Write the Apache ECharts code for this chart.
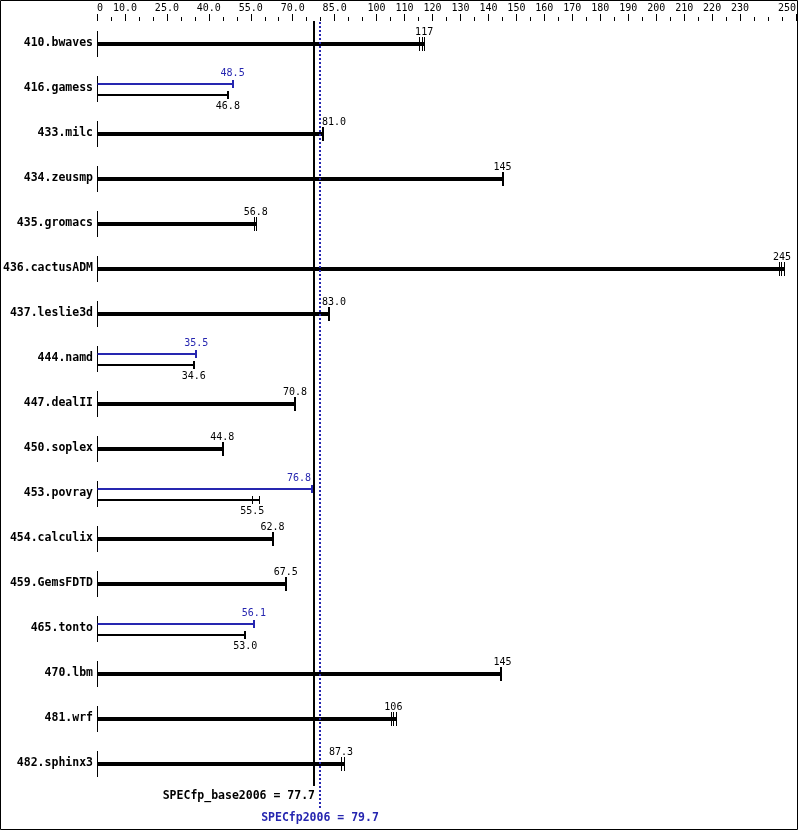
<!DOCTYPE html>
<html>
<head>
<meta charset="utf-8">
<script src="https://cdn.jsdelivr.net/npm/echarts@6/dist/echarts.min.js"></script>
<style>
html,body{margin:0;padding:0;background:#fff;}
#c{width:799px;height:831px;}
</style>
</head>
<body>
<div id="c"></div>
<script>
// ---- data ----
const benchmarks = ['410.bwaves','416.gamess','433.milc','434.zeusmp','435.gromacs','436.cactusADM','437.leslie3d','444.namd','447.dealII','450.soplex','453.povray','454.calculix','459.GemsFDTD','465.tonto','470.lbm','481.wrf','482.sphinx3'];
const baseScores = [117, 46.8, 81.0, 145, 56.8, 245, 83.0, 34.6, 70.8, 44.8, 55.5, 62.8, 67.5, 53.0, 145, 106, 87.3];
const peakScores = [null, 48.5, null, null, null, null, null, 35.5, null, null, 76.8, null, null, 56.1, null, null, null];
const baseRuns = [[115.1,116.2,116.9],[46.8],[81.0],[145.1],[56.2,56.8],[243.8,244.8,245.6],[83.0],[34.6],[70.8],[44.9],[55.5,58.0],[62.8],[67.5],[53.0],[144.6],[105.0,105.9,107.0],[87.3,88.2]];
const peakRuns = [null,[48.5],null,null,null,null,null,[35.5],null,null,[76.8],null,null,[56.1],null,null,null];
const tickLabelValues = [0,10,25,40,55,70,85,100,110,120,130,140,150,160,170,180,190,200,210,220,230,250];
const specBase = 77.7;
const specPeak = 79.7;

// ---- styles ----
const BLACK = '#000000';
const BLUE = '#2626b0';
const MONO = '"DejaVu Sans Mono", "Liberation Mono", monospace';
const SMALL_SIZE = 10;
const smallFont = SMALL_SIZE + 'px ' + MONO;
const boldFont = 'bold 11.5px ' + MONO;
const CHAR_W = SMALL_SIZE * 0.602;

function fmt(v){ return v >= 100 ? String(Math.round(v)) : v.toFixed(1); }
function tickFmt(v){ return v === 0 ? '0' : (v < 100 ? v.toFixed(1) : String(v)); }
function seg(x1,y1,x2,y2,color,w,dash){
  return {type:'line', shape:{x1:x1,y1:y1,x2:x2,y2:y2}, style:{stroke:color, lineWidth:w, lineDash:dash||null}};
}
function txt(x,y,s,color,font,align){
  return {type:'text', x:x, y:y, style:{text:s, fill:color, font:font, align:align||'center', verticalAlign:'middle', textAlign:align||'center', textVerticalAlign:'middle'}};
}
// value label, nudged off the two reference lines when it would cross them
function valueLabel(api, i, v, y, color){
  const cx = api.coord([v, i])[0];
  const xb = Math.round(api.coord([specBase, i])[0]);
  const xp = Math.round(api.coord([specPeak, i])[0]);
  const s = fmt(v);
  const w = s.length * CHAR_W;
  let l = cx - w/2, r = cx + w/2;
  if (r > xb - 2 && l < xp + 2) {
    if (cx > xp) return txt(xp + 2, y, s, color, smallFont, 'left');
    return txt(xb - 3, y, s, color, smallFont, 'right');
  }
  return txt(cx, y, s, color, smallFont, 'center');
}
function runTicks(kids, api, i, runs, y, half, color){
  const single = runs.length === 1;
  runs.forEach(r => {
    let x = api.coord([r, i])[0];
    x = single ? Math.round(x) : Math.round(x) + 0.5;
    kids.push(seg(x, y-half, x, y+half, color, single ? 2 : 1));
  });
}

function renderRow(params, api){
  const i = api.value(1);
  const c0 = api.coord([0, i]);
  const x0 = Math.round(c0[0]) + 0.5;
  const yc = Math.round(c0[1]);
  const X = v => api.coord([v, i])[0];
  const kids = [];
  kids.push(seg(x0, yc-13, x0, yc+13, BLACK, 1));
  if (peakScores[i] == null) {
    const runs = baseRuns[i];
    const xEnd = Math.round(X(Math.max.apply(null, runs)));
    kids.push(seg(x0, yc, xEnd, yc, BLACK, 4));
    runTicks(kids, api, i, runs, yc, 7, BLACK);
    kids.push(valueLabel(api, i, baseScores[i], yc-12, BLACK));
  } else {
    const yp = yc - 5, yb = yc + 6;
    const pr = peakRuns[i], br = baseRuns[i];
    kids.push(seg(x0, yp, Math.round(X(Math.max.apply(null, pr))), yp, BLUE, 2));
    runTicks(kids, api, i, pr, yp, 4, BLUE);
    kids.push(valueLabel(api, i, peakScores[i], yp-10.5, BLUE));
    kids.push(seg(x0, yb, Math.round(X(Math.max.apply(null, br))), yb, BLACK, 2));
    runTicks(kids, api, i, br, yb, 4, BLACK);
    kids.push(valueLabel(api, i, baseScores[i], yb+11.5, BLACK));
  }
  return {type:'group', children:kids};
}

function renderSpec(params, api){
  const cs = params.coordSys;
  const top = Math.round(cs.y), bottom = Math.round(cs.y + cs.height);
  const xb = Math.round(api.coord([specBase, 0])[0]);
  const xp = Math.round(api.coord([specPeak, 0])[0]);
  return {type:'group', children:[
    seg(xb, top, xb, bottom, BLACK, 2),
    seg(xp, top + 1, xp, bottom + 22, BLUE, 2, [2,2]),
    txt(xb + 1, bottom + 10, 'SPECfp_base2006 = ' + specBase.toFixed(1), BLACK, boldFont, 'right'),
    txt(xp, bottom + 32, 'SPECfp2006 = ' + specPeak.toFixed(1), BLUE, boldFont, 'center')
  ]};
}

const chart = echarts.init(document.getElementById('c'), null, {renderer:'canvas'});
chart.setOption({
  animation:false,
  backgroundColor:'#ffffff',
  grid:{left:97, right:2, top:21, height:765, containLabel:false},
  xAxis:[
    {type:'value', min:0, max:250, interval:5, position:'top',
     axisLine:{show:false}, splitLine:{show:false},
     axisTick:{show:true, length:4, lineStyle:{color:BLACK, width:1}},
     axisLabel:{show:false}},
    {type:'value', min:0, max:250, position:'top',
     axisLine:{show:false}, splitLine:{show:false},
     axisTick:{show:true, length:7, customValues:tickLabelValues, lineStyle:{color:BLACK, width:1}},
     axisLabel:{show:true, customValues:tickLabelValues, formatter:tickFmt, color:BLACK,
       fontFamily:MONO, fontSize:SMALL_SIZE, margin:8, alignMinLabel:'left', alignMaxLabel:'right',
       showMinLabel:true, showMaxLabel:true, hideOverlap:false}}
  ],
  yAxis:{type:'category', data:benchmarks, inverse:true,
    axisLine:{show:false}, axisTick:{show:false}, splitLine:{show:false},
    axisLabel:{color:BLACK, fontFamily:MONO, fontWeight:'bold', fontSize:11.5, margin:4}},
  series:[
    {type:'custom', xAxisIndex:0, renderItem:renderRow, clip:false,
     encode:{x:0, y:1}, data:benchmarks.map((b,i)=>[0, i]), z:2},
    {type:'custom', xAxisIndex:0, renderItem:renderSpec, clip:false,
     encode:{x:0, y:1}, data:[[specBase, 0]], z:3}
  ],
  graphic:[{type:'rect', shape:{x:0.5, y:0.5, width:797, height:829},
    style:{fill:'none', stroke:BLACK, lineWidth:1}, z:10}]
});
</script>
</body>
</html>
